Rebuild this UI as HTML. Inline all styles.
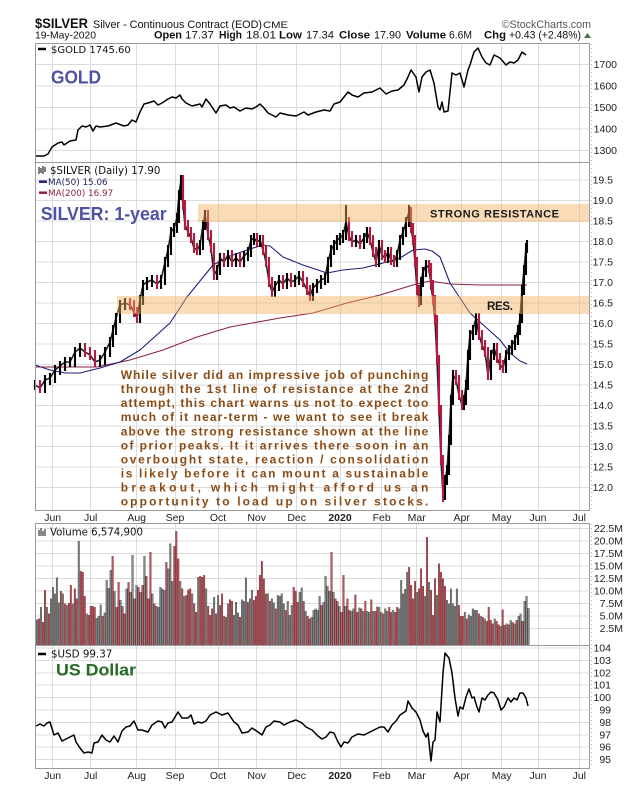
<!DOCTYPE html>
<html><head><meta charset="utf-8">
<style>html,body{margin:0;padding:0;background:#fff}svg{display:block}</style>
</head><body>
<svg xmlns="http://www.w3.org/2000/svg" width="625" height="794" viewBox="0 0 625 794" font-family="'Liberation Sans', Arial, sans-serif">
<defs>
<path id="vg" fill="none" d="M0-.8V4.3M2-.8V6.8M5-.8V6.8M7-.8V8.5M8-.8V10.8M9-.8V9.5M10-.8V12.7M11-.8V7.7M13-.8V9.5M15-.8V7.2M18-.8V7.5M21-.8V20M25-.8V5.5M30-.8V4.6M31-.8V5M32-.8V7.3M34-.8V5.7M35-.8V12.2M36-.8V10.6M37-.8V14.2M39-.8V10M42-.8V8.2M45-.8V10.5M47-.8V9.8M48-.8V17.2M50-.8V11.2M52-.8V9.8M54-.8V17M58-.8V9.5M60-.8V7M61-.8V6.8M62-.8V10.8M63-.8V10.5M64-.8V10.2M66-.8V14.5M67-.8V19.5M68-.8V12M72-.8V12M74-.8V9M78-.8V9.5M81-.8V12.8M85-.8V10.5M89-.8V8.8M91-.8V9.2M94-.8V5M96-.8V7.5M99-.8V5.2M100-.8V7.8M101-.8V5.7M103-.8V8.3M104-.8V8M105-.8V12.7M107-.8V8.5M108-.8V10.2M116-.8V9.5M118-.8V8.5M119-.8V7.7M121-.8V9.2M122-.8V9M123-.8V9.5M124-.8V7.5M126-.8V8M127-.8V5.2M128-.8V7.2M132-.8V9.8M133-.8V10.7M135-.8V6M138-.8V4.8M139-.8V6.2M140-.8V6.5M141-.8V6.2M142-.8V9M144-.8V7.8M145-.8V13M146-.8V11M147-.8V10M149-.8V9.8M152-.8V7M155-.8V7M158-.8V6M159-.8V6.5M162-.8V6.7M164-.8V6M166-.8V6M167-.8V5.8M169-.8V6M172-.8V6.8M173-.8V5.8M175-.8V6.5M176-.8V6M179-.8V6.2M182-.8V6.5M183-.8V12.2M184-.8V9.5M185-.8V10.4M186-.8V13.8M191-.8V9.8M195-.8V9M197-.8V11.8M201-.8V9.2M206-.8V8.2M207-.8V7.5M208-.8V10.5M209-.8V7.5M210-.8V7M211-.8V10.5M215-.8V5.8M217-.8V5.3M218-.8V5M219-.8V6.5M220-.8V6.2M221-.8V6.2M223-.8V5M225-.8V4.5M230-.8V4.5M233-.8V3M236-.8V3.5M238-.8V4.2M240-.8V3.5M242-.8V5M243-.8V5.5M245-.8V8M246-.8V9M247-.8V6.6"/>
<path id="vr" fill="none" d="M1-.8V4.5M3-.8V3.8M4-.8V10.2M6-.8V5.5M12-.8V10M14-.8V7.5M16-.8V7.6M17-.8V11.2M19-.8V10.5M20-.8V8.5M22-.8V14M23-.8V13.8M24-.8V9M26-.8V5.2M27-.8V7M28-.8V7M29-.8V6.8M33-.8V5M38-.8V17M40-.8V6.8M41-.8V11.8M43-.8V7M44-.8V5.5M46-.8V11.8M49-.8V8.5M51-.8V10.8M53-.8V11.2M55-.8V13M56-.8V8.5M57-.8V17.8M59-.8V7.5M65-.8V15.8M69-.8V19M70-.8V22M71-.8V16.5M73-.8V10.5M75-.8V9.2M76-.8V10.3M77-.8V10.5M79-.8V7.5M80-.8V5.8M82-.8V13M83-.8V12.8M84-.8V13.2M86-.8V7M87-.8V5.2M88-.8V6.5M90-.8V5.5M92-.8V7.2M93-.8V9.5M95-.8V4.8M97-.8V8.3M98-.8V8M102-.8V4.8M106-.8V7.8M109-.8V8.2M110-.8V9M111-.8V10.2M112-.8V13.2M113-.8V16M114-.8V12.5M115-.8V9.5M117-.8V8M120-.8V6.5M125-.8V6.2M129-.8V10.8M130-.8V10M131-.8V7.8M134-.8V8M136-.8V5M137-.8V4.5M143-.8V7.2M148-.8V17.8M150-.8V8.5M151-.8V8M153-.8V5.8M154-.8V13.2M156-.8V8.5M157-.8V6.2M160-.8V9.3M161-.8V5.8M163-.8V6.5M165-.8V8M168-.8V8.3M170-.8V6M171-.8V6.9M174-.8V5.5M177-.8V6.8M178-.8V5.8M180-.8V5.8M181-.8V6.8M187-.8V14.8M188-.8V11.2M189-.8V8.5M190-.8V12M192-.8V10.5M193-.8V14.5M194-.8V11M196-.8V20.8M198-.8V10.2M199-.8V5.2M200-.8V12.5M202-.8V15.5M203-.8V13.8M204-.8V12.5M205-.8V11M212-.8V7.2M213-.8V5M214-.8V5M216-.8V4.5M222-.8V5.5M224-.8V4.8M226-.8V4M227-.8V6.8M228-.8V4.2M229-.8V3.5M231-.8V4M232-.8V3.3M234-.8V6.3M235-.8V3.2M237-.8V3.3M239-.8V3.8M241-.8V4.2M244-.8V4"/>
</defs>
<rect x="0" y="0" width="625" height="794" fill="#fff"/>

<!-- Header -->
<text x="35" y="28" font-size="14" font-weight="bold" textLength="53" lengthAdjust="spacingAndGlyphs" fill="#111">$SILVER</text>
<text x="93" y="28" font-size="11" textLength="169" lengthAdjust="spacingAndGlyphs" fill="#111">Silver - Continuous Contract (EOD)</text>
<text x="263" y="28" font-size="9.5" textLength="25" lengthAdjust="spacingAndGlyphs" fill="#111">CME</text>
<text x="591" y="28" font-size="10.7" text-anchor="end" fill="#555">©StockCharts.com</text>
<text x="35" y="38.5" font-size="10.5" textLength="61" lengthAdjust="spacingAndGlyphs" fill="#111">19-May-2020</text>
<g font-size="11" fill="#111">
<text x="154" y="38.5" font-weight="bold" textLength="28" lengthAdjust="spacingAndGlyphs">Open</text>
<text x="185" y="38.5" textLength="29" lengthAdjust="spacingAndGlyphs">17.37</text>
<text x="219" y="38.5" font-weight="bold" textLength="23" lengthAdjust="spacingAndGlyphs">High</text>
<text x="246" y="38.5" textLength="30" lengthAdjust="spacingAndGlyphs">18.01</text>
<text x="279" y="38.5" font-weight="bold" textLength="23" lengthAdjust="spacingAndGlyphs">Low</text>
<text x="306" y="38.5" textLength="28" lengthAdjust="spacingAndGlyphs">17.34</text>
<text x="339" y="38.5" font-weight="bold" textLength="31" lengthAdjust="spacingAndGlyphs">Close</text>
<text x="374" y="38.5" textLength="27" lengthAdjust="spacingAndGlyphs">17.90</text>
<text x="406" y="38.5" font-weight="bold" textLength="40" lengthAdjust="spacingAndGlyphs">Volume</text>
<text x="449" y="38.5" textLength="23" lengthAdjust="spacingAndGlyphs">6.6M</text>
<text x="484" y="38.5" font-weight="bold" textLength="22" lengthAdjust="spacingAndGlyphs">Chg</text>
<text x="509" y="38.5" textLength="72" lengthAdjust="spacingAndGlyphs">+0.43 (+2.48%)</text>
</g>
<polygon points="584,38 591,38 587.5,33" fill="#4a704a"/>

<!-- Grid -->
<g stroke="#dcdcdc" stroke-width="1" fill="none">
<path d="M52.5 44V510M52.5 524V768M90.5 44V510M90.5 524V768M136.5 44V510M136.5 524V768M175.5 44V510M175.5 524V768M218.5 44V510M218.5 524V768M256.5 44V510M256.5 524V768M296.5 44V510M296.5 524V768M340.5 44V510M340.5 524V768M381.5 44V510M381.5 524V768M416.5 44V510M416.5 524V768M461.5 44V510M461.5 524V768M501.5 44V510M501.5 524V768M538.5 44V510M538.5 524V768M579.5 44V510M579.5 524V768"/>
<path d="M35 64.5H589M35 86H589M35 107.5H589M35 129H589M35 150.5H589"/>
<path d="M35 180H589M35 200.5H589M35 221H589M35 241.5H589M35 262H589M35 282.5H589M35 303H589M35 323.5H589M35 344H589M35 364.5H589M35 385H589M35 405.5H589M35 426H589M35 446.5H589M35 467H589M35 487.5H589"/>
<path d="M35 528.5H589M35 541H589M35 553.5H589M35 566H589M35 578.5H589M35 591H589M35 603.5H589M35 616H589M35 628.5H589"/>
<path d="M35 648H589M35 660.5H589M35 673H589M35 685H589M35 697.5H589M35 710H589M35 722.5H589M35 735H589M35 747H589M35 759.5H589"/>
</g>
<path d="M591.5 44V510M591.5 524V768" stroke="#b5b5b5" stroke-dasharray="1,3" fill="none"/>

<!-- Gold -->
<polyline fill="none" stroke="#000" stroke-width="1.5" stroke-linejoin="round" points="36,156 44,156 48,154 52,147 58,143 62,142 64,145 70,141 76,140 78,130 82,126 86,127 90,125 93,131 96,126 100,127 108,126 116,123 124,126 128,125 132,120 136,122 140,112 144,104 148,103 154,101 158,105 162,103 168,99 172,97 176,98 180,95 182,99 186,103 192,106 200,104 202,107 206,99 210,104 216,113 220,106 226,105 230,108 234,107 240,111 246,108 252,109 256,107 260,104 264,108 268,113 276,117 280,113 288,115 296,116 304,112 308,115 316,112 324,110 330,111 334,104 340,102 344,97 348,92 352,95 358,97 364,93 372,92 376,90 380,88 386,94 392,91 398,90 404,85 408,77 411,70 416,77 419,92 422,77 426,72 430,70 434,83 438,107 440,110 442,102 444,112 448,111 452,73 456,75 460,73 464,87 468,70 470,65 474,52 478,48 482,57 486,63 490,65 494,55 500,58 506,65 510,62 514,63 518,60 522,52 526,55"/>

<!-- Silver MAs -->
<polyline fill="none" stroke="#8c2242" stroke-width="1.1" points="35,367 97,367 130,360 163,350 197,337 230,327 280,318 313,313 347,303 380,295 413,285 430,281 450,284 480,285 527,285"/>
<polyline fill="none" stroke="#1f1f7a" stroke-width="1.1" stroke-linejoin="round" points="35,365 50,370 65,373 80,373 100,368 120,362 140,350 170,323 187,297 213,265 230,256 250,249 263,245 270,246 283,257 303,265 327,273 343,270 363,268 383,263 400,258 413,250 425,249 432,251 440,257 450,283 470,313 500,340 510,353 520,361 527,364"/>

<!-- Silver price -->
<polyline fill="none" stroke="#222" stroke-width="1.6" points="35,385 40,388 45,380 50,378 55,370 60,366 65,362 70,362 75,352 80,348 85,352 90,355 95,362 100,360 105,352 110,342 113,330 116,318 120,305 125,303 130,305 134,312 137,318 140,300 143,285 147,282 152,280 157,284 161,280 165,262 168,250 171,232 174,228 177,218 179,195 181,180 183,205 185,225 188,232 191,238 194,248 197,250 200,245 203,225 205,215 208,235 211,248 214,275 217,270 220,258 224,262 228,255 232,262 236,258 240,262 244,256 248,252 251,240 254,238 257,242 260,240 263,250 266,262 269,282 272,292 275,286 279,280 283,284 287,278 291,282 295,280 299,276 303,282 307,290 310,296 313,288 317,284 321,280 325,278 328,262 331,250 334,245 337,240 340,238 343,235 346,222 349,236 352,242 356,240 360,244 364,238 367,232 370,240 373,252 376,262 379,245 382,255 385,258 388,252 391,260 394,262 397,255 400,240 403,232 406,222 409,212 411,228 413,240 415,262 417,290 419,300 421,282 423,272 426,265 429,268 431,285 433,300 435,320 437,360 439,410 441,460 443,495 445,480 447,470 449,440 451,400 453,375 456,380 459,395 462,405 464,400 466,385 468,355 470,335 473,330 476,318 479,335 482,345 485,352 488,375 491,355 494,348 497,358 500,365 503,368 506,355 509,350 512,345 515,340 518,330 520,318 522,290 524,270 526,248 527,245"/>
<path fill="none" stroke="#000" stroke-width="2.1" d="M35 380V390M45 375V393M50 373V385M55 365V383M60 361V375M65 357V371M70 357V367M75 347V367M80 343V357M100 355V367M105 347V365M110 337V357M113 325V347M116 313V335M120 300V323M125 298V310M140 295V323M143 280V305M147 277V290M152 275V287M161 275V289M165 257V285M168 245V267M171 227V255M174 223V237M177 213V233M179 190V223M181 175V200M200 240V255M203 220V250M205 210V230M217 265V280M220 253V275M228 250V267M236 253V267M244 251V267M248 247V261M251 235V257M254 233V245M260 235V247M275 281V297M279 275V291M287 273V289M295 275V287M299 271V285M313 283V301M317 279V293M321 275V289M325 273V285M328 257V283M331 245V267M334 240V255M337 235V250M340 233V245M343 230V243M346 205V240M356 235V247M364 233V249M367 227V243M379 240V267M388 247V263M397 250V267M400 235V260M403 227V245M406 217V237M409 205V227M421 277V305M423 267V287M426 260V277M445 475V500M447 465V485M449 435V475M451 395V445M453 370V405M464 395V410M466 380V405M468 350V390M470 330V360M473 325V340M476 313V335M491 350V380M494 343V360M506 350V373M509 345V360M512 340V355M515 335V350M518 325V345M520 313V335M522 285V323M524 265V295M526 243V275M527 240V253"/>
<path fill="none" stroke="#b01c40" stroke-width="2.1" d="M40 380V393M85 343V357M90 347V360M95 350V367M130 298V310M134 300V317M137 307V323M157 275V289M183 175V210M185 200V230M188 220V237M191 227V243M194 233V253M197 243V255M208 210V240M211 230V253M214 243V280M224 253V267M232 250V267M240 253V267M257 233V247M263 235V255M266 245V267M269 257V287M272 277V297M283 275V289M291 273V287M303 271V287M307 277V295M310 285V301M349 217V241M352 231V247M360 235V249M370 227V245M373 235V257M376 247V267M382 240V260M385 250V263M391 247V265M394 255V267M411 207V233M413 223V245M415 235V267M417 257V295M419 285V307M429 260V273M431 263V290M433 280V305M435 295V325M437 315V365M439 355V415M441 405V465M443 455V502M456 370V385M459 375V400M462 390V410M479 313V340M482 330V350M485 340V357M488 347V380M497 343V363M500 353V370M503 360V373"/>

<!-- Bands -->
<rect x="198" y="204" width="391" height="18" fill="#f4b060" fill-opacity="0.45"/>
<rect x="117" y="296" width="472" height="18" fill="#f4b060" fill-opacity="0.45"/>
<text x="430" y="217.3" font-size="11" font-weight="bold" textLength="129" lengthAdjust="spacing" fill="#1a1a1a">STRONG RESISTANCE</text>
<text x="487" y="310" font-size="11.5" font-weight="bold" textLength="26" lengthAdjust="spacing" fill="#1a1a1a">RES.</text>

<!-- Commentary -->
<g font-size="12" font-weight="bold" fill="#8a4b14">
<text x="120.7" y="379" textLength="307.6" lengthAdjust="spacing">While silver did an impressive job of punching</text>
<text x="120.7" y="393.1" textLength="307.6" lengthAdjust="spacing">through the 1st line of resistance at the 2nd</text>
<text x="120.7" y="407.2" textLength="307.6" lengthAdjust="spacing">attempt, this chart warns us not to expect too</text>
<text x="120.7" y="421.2" textLength="307.6" lengthAdjust="spacing">much of it near-term - we want to see it break</text>
<text x="120.7" y="435.3" textLength="307.6" lengthAdjust="spacing">above the strong resistance shown at the line</text>
<text x="120.7" y="449.4" textLength="307.6" lengthAdjust="spacing">of prior peaks. It it arrives there soon in an</text>
<text x="120.7" y="463.5" textLength="307.6" lengthAdjust="spacing">overbought state, reaction / consolidation</text>
<text x="120.7" y="477.6" textLength="307.6" lengthAdjust="spacing">is likely before it can mount a sustainable</text>
<text x="120.7" y="491.6" textLength="307.6" lengthAdjust="spacing">breakout, which might afford us an</text>
<text x="120.7" y="505.7" textLength="307.6" lengthAdjust="spacing">opportunity to load up on silver stocks.</text>
</g>

<!-- Volume bars -->
<g transform="translate(37,641) scale(1.99,-5)">
<use href="#vg" stroke="#3c3c3c" stroke-width="0.95"/>
<use href="#vg" stroke="#8c8c8c" stroke-width="0.5"/>
<use href="#vr" stroke="#4a3032" stroke-width="0.95"/>
<use href="#vr" stroke="#d9505c" stroke-width="0.5"/>
</g>

<!-- USD -->
<polyline fill="none" stroke="#000" stroke-width="1.5" stroke-linejoin="round" points="36,726 40,724 44,726 47,723 50,722 54,735 58,733 62,741 66,739 70,737 74,735 76,742 80,748 84,753 88,752 92,753 94,743 98,742 102,735 106,740 110,742 114,736 118,742 122,731 126,727 130,726 134,721 138,730 142,730 148,732 152,725 158,721 162,722 165,728 168,723 172,722 178,712 182,718 188,718 191,715 194,724 198,722 202,723 206,721 210,715 216,712 222,715 228,713 234,722 238,725 242,733 248,732 252,728 258,732 262,735 266,727 270,725 274,721 280,722 284,725 290,722 296,720 302,723 306,727 312,730 318,736 322,739 326,737 330,732 334,733 338,742 341,747 344,742 348,743 352,737 358,734 364,735 368,733 374,730 380,727 384,727 388,732 392,725 396,721 400,715 406,711 408,701 412,708 416,712 420,720 423,731 426,737 428,733 431,761 433,742 435,740 437,712 440,722 443,673 445,653 449,658 452,673 455,698 458,716 460,707 463,709 466,697 469,689 472,698 474,697 477,707 479,712 482,698 485,700 488,695 491,692 494,693 498,700 501,710 504,707 508,698 511,702 514,698 517,700 520,693 523,693 526,698 528,706"/>

<!-- Panel borders -->
<g fill="none" stroke="#9a9a9a" stroke-width="1">
<rect x="35.5" y="43.5" width="554" height="467"/>
<line x1="35.5" y1="162.5" x2="589.5" y2="162.5"/>
<rect x="35.5" y="523.5" width="554" height="245"/>
<line x1="35.5" y1="645.5" x2="589.5" y2="645.5"/>
</g>

<!-- Legends -->
<g font-family="'DejaVu Sans', Verdana, sans-serif">
<line x1="38" y1="49" x2="46" y2="49" stroke="#000" stroke-width="2.5"/>
<text x="51" y="52.8" font-size="10" fill="#111">$GOLD 1745.60</text>
<path d="M39 167V174M41 168V173M43 166V174M45 167V172" stroke="#000" stroke-width="1" fill="none"/>
<text x="50" y="174" font-size="10.2" fill="#111">$SILVER (Daily) 17.90</text>
<line x1="39" y1="181.7" x2="47" y2="181.7" stroke="#1f1f7a" stroke-width="2.5"/>
<text x="48" y="185" font-size="8.8" fill="#1f1f5e">MA(50) 15.06</text>
<line x1="39" y1="192.7" x2="47" y2="192.7" stroke="#8c2242" stroke-width="2.5"/>
<text x="48" y="196" font-size="8.8" fill="#8c2242">MA(200) 16.97</text>
<path d="M39 536V530M41 536V528M43 536V531M45 536V529" stroke="#555" stroke-width="1.4" fill="none"/>
<text x="50" y="535.5" font-size="10.2" fill="#111">Volume 6,574,900</text>
<line x1="38" y1="654" x2="46" y2="654" stroke="#000" stroke-width="2.5"/>
<text x="51" y="657.7" font-size="10.3" fill="#111">$USD 99.37</text>
</g>

<text x="51" y="83.3" font-size="18" font-weight="bold" textLength="50" lengthAdjust="spacingAndGlyphs" fill="#4e52a0">GOLD</text>
<text x="40.7" y="220" font-size="18" font-weight="bold" textLength="126" lengthAdjust="spacingAndGlyphs" fill="#4e52a0">SILVER: 1-year</text>
<text x="56" y="675.7" font-size="17" font-weight="bold" textLength="80" lengthAdjust="spacingAndGlyphs" fill="#236b23">US Dollar</text>

<!-- Right axis labels -->
<g font-size="10.5" fill="#222" text-anchor="end">
<text x="617" y="68.2">1700</text><text x="617" y="89.7">1600</text><text x="617" y="111.2">1500</text><text x="617" y="132.7">1400</text><text x="617" y="154.2">1300</text>
<text x="613" y="183.7">19.5</text><text x="613" y="204.2">19.0</text><text x="613" y="224.7">18.5</text><text x="613" y="245.2">18.0</text><text x="613" y="265.7">17.5</text><text x="613" y="286.2">17.0</text><text x="613" y="306.7">16.5</text><text x="613" y="327.2">16.0</text><text x="613" y="347.7">15.5</text><text x="613" y="368.2">15.0</text><text x="613" y="388.7">14.5</text><text x="613" y="409.2">14.0</text><text x="613" y="429.7">13.5</text><text x="613" y="450.2">13.0</text><text x="613" y="470.7">12.5</text><text x="613" y="491.2">12.0</text>
<text x="623" y="532.2">22.5M</text><text x="623" y="544.7">20.0M</text><text x="623" y="557.2">17.5M</text><text x="623" y="569.7">15.0M</text><text x="623" y="582.2">12.5M</text><text x="623" y="594.7">10.0M</text><text x="623" y="607.2">7.5M</text><text x="623" y="619.7">5.0M</text><text x="623" y="632.2">2.5M</text>
<text x="611" y="651.7">104</text><text x="611" y="664.2">103</text><text x="611" y="676.7">102</text><text x="611" y="688.7">101</text><text x="611" y="701.2">100</text><text x="611" y="713.7">99</text><text x="611" y="726.2">98</text><text x="611" y="738.7">97</text><text x="611" y="750.7">96</text><text x="611" y="763.2">95</text>
</g>

<!-- X axis labels -->
<g font-size="10.5" fill="#222" text-anchor="middle">
<text x="52.7" y="521">Jun</text><text x="90.7" y="521">Jul</text><text x="136.7" y="521">Aug</text><text x="175" y="521">Sep</text><text x="218" y="521">Oct</text><text x="256.7" y="521">Nov</text><text x="296.7" y="521">Dec</text><text x="340" y="521" font-weight="bold">2020</text><text x="381.7" y="521">Feb</text><text x="416.7" y="521">Mar</text><text x="461.7" y="521">Apr</text><text x="501.7" y="521">May</text><text x="538" y="521">Jun</text><text x="579.3" y="521">Jul</text>
<text x="52.7" y="779">Jun</text><text x="90.7" y="779">Jul</text><text x="136.7" y="779">Aug</text><text x="175" y="779">Sep</text><text x="218" y="779">Oct</text><text x="256.7" y="779">Nov</text><text x="296.7" y="779">Dec</text><text x="340" y="779" font-weight="bold">2020</text><text x="381.7" y="779">Feb</text><text x="416.7" y="779">Mar</text><text x="461.7" y="779">Apr</text><text x="501.7" y="779">May</text><text x="538" y="779">Jun</text><text x="579.3" y="779">Jul</text>
</g>
</svg>
</body></html>
